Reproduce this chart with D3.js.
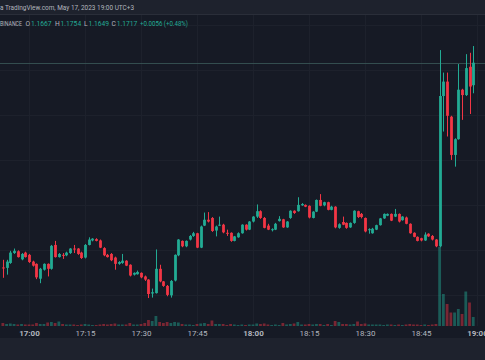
<!DOCTYPE html>
<html>
<head>
<meta charset="utf-8">
<script src="https://cdn.jsdelivr.net/npm/d3@7/dist/d3.min.js"></script>
<style>
  html, body { margin: 0; padding: 0; background: #161a25; overflow: hidden; }
  svg { display: block; }
</style>
</head>
<body>
<svg id="chart" width="485" height="360"></svg>
<script>
// ---- data (1-minute candles, first candle at 16:53) ----
const startTime = "16:53";
const open  = [1.1262,1.1261,1.1272,1.1294,1.1298,1.1280,1.1295,1.1290,1.1275,1.1270,1.1237,1.1257,1.1270,1.1259,1.1312,1.1285,1.1290,1.1289,1.1294,1.1304,1.1304,1.1295,1.1284,1.1312,1.1322,1.1325,1.1322,1.1305,1.1290,1.1292,1.1284,1.1270,1.1272,1.1277,1.1268,1.1246,1.1247,1.1250,1.1242,1.1235,1.1204,1.1205,1.1259,1.1231,1.1221,1.1200,1.1233,1.1289,1.1321,1.1309,1.1324,1.1332,1.1338,1.1306,1.1355,1.1368,1.1372,1.1344,1.1355,1.1357,1.1339,1.1339,1.1321,1.1329,1.1338,1.1357,1.1346,1.1364,1.1375,1.1387,1.1372,1.1355,1.1345,1.1346,1.1365,1.1369,1.1351,1.1372,1.1388,1.1387,1.1400,1.1401,1.1399,1.1372,1.1386,1.1412,1.1400,1.1407,1.1390,1.1397,1.1350,1.1363,1.1361,1.1351,1.1361,1.1387,1.1381,1.1372,1.1345,1.1338,1.1346,1.1356,1.1371,1.1377,1.1381,1.1375,1.1381,1.1367,1.1373,1.1359,1.1339,1.1330,1.1327,1.1322,1.1337,1.1332,1.1324,1.1309,1.1643,1.1675,1.1597,1.1512,1.1547,1.1657,1.1645,1.1708,1.1667];
const high  = [1.1279,1.1279,1.1299,1.1304,1.1300,1.1294,1.1297,1.1292,1.1277,1.1271,1.1261,1.1271,1.1271,1.1312,1.1321,1.1294,1.1294,1.1297,1.1305,1.1312,1.1305,1.1297,1.1314,1.1329,1.1327,1.1327,1.1324,1.1307,1.1292,1.1294,1.1286,1.1276,1.1292,1.1278,1.1269,1.1251,1.1255,1.1251,1.1244,1.1236,1.1215,1.1302,1.1268,1.1232,1.1223,1.1234,1.1291,1.1325,1.1322,1.1322,1.1334,1.1341,1.1339,1.1355,1.1384,1.1385,1.1374,1.1355,1.1375,1.1359,1.1346,1.1340,1.1332,1.1340,1.1358,1.1358,1.1365,1.1376,1.1402,1.1389,1.1374,1.1359,1.1349,1.1361,1.1376,1.1370,1.1365,1.1389,1.1389,1.1418,1.1405,1.1402,1.1400,1.1387,1.1413,1.1425,1.1408,1.1408,1.1399,1.1398,1.1360,1.1375,1.1362,1.1362,1.1389,1.1388,1.1383,1.1373,1.1349,1.1350,1.1357,1.1372,1.1382,1.1382,1.1382,1.1392,1.1382,1.1376,1.1375,1.1360,1.1340,1.1331,1.1328,1.1340,1.1338,1.1334,1.1325,1.1745,1.1695,1.1695,1.1599,1.1549,1.1714,1.1659,1.1736,1.1739,1.1754];
const low   = [1.1239,1.1246,1.1270,1.1292,1.1284,1.1278,1.1284,1.1272,1.1264,1.1236,1.1227,1.1255,1.1242,1.1257,1.1284,1.1284,1.1281,1.1287,1.1292,1.1294,1.1290,1.1281,1.1282,1.1311,1.1320,1.1320,1.1305,1.1287,1.1284,1.1276,1.1257,1.1268,1.1270,1.1265,1.1242,1.1244,1.1246,1.1238,1.1232,1.1194,1.1195,1.1204,1.1229,1.1219,1.1198,1.1195,1.1231,1.1287,1.1307,1.1307,1.1322,1.1330,1.1305,1.1305,1.1354,1.1362,1.1341,1.1331,1.1354,1.1338,1.1332,1.1319,1.1320,1.1328,1.1337,1.1344,1.1345,1.1362,1.1372,1.1370,1.1349,1.1345,1.1342,1.1345,1.1364,1.1350,1.1350,1.1370,1.1381,1.1386,1.1399,1.1396,1.1371,1.1371,1.1385,1.1398,1.1398,1.1389,1.1389,1.1349,1.1348,1.1356,1.1348,1.1350,1.1359,1.1372,1.1371,1.1340,1.1337,1.1337,1.1345,1.1355,1.1370,1.1376,1.1365,1.1374,1.1362,1.1366,1.1358,1.1337,1.1329,1.1320,1.1320,1.1321,1.1330,1.1322,1.1307,1.1307,1.1564,1.1553,1.1501,1.1486,1.1546,1.1590,1.1643,1.1603,1.1649];
const close = [1.1260,1.1275,1.1295,1.1299,1.1285,1.1292,1.1285,1.1274,1.1266,1.1240,1.1259,1.1270,1.1259,1.1310,1.1285,1.1292,1.1288,1.1295,1.1304,1.1302,1.1292,1.1283,1.1312,1.1324,1.1326,1.1321,1.1306,1.1289,1.1285,1.1278,1.1270,1.1274,1.1277,1.1266,1.1244,1.1250,1.1252,1.1240,1.1235,1.1203,1.1207,1.1259,1.1231,1.1221,1.1201,1.1232,1.1290,1.1324,1.1309,1.1321,1.1332,1.1338,1.1306,1.1353,1.1368,1.1364,1.1343,1.1353,1.1357,1.1340,1.1338,1.1321,1.1331,1.1338,1.1357,1.1346,1.1364,1.1375,1.1387,1.1372,1.1350,1.1346,1.1347,1.1359,1.1370,1.1351,1.1364,1.1388,1.1383,1.1401,1.1403,1.1397,1.1373,1.1386,1.1412,1.1399,1.1407,1.1390,1.1397,1.1351,1.1358,1.1357,1.1350,1.1361,1.1388,1.1374,1.1374,1.1342,1.1347,1.1348,1.1356,1.1371,1.1381,1.1381,1.1366,1.1381,1.1364,1.1375,1.1359,1.1338,1.1330,1.1321,1.1322,1.1335,1.1331,1.1324,1.1309,1.1643,1.1675,1.1599,1.1512,1.1547,1.1657,1.1645,1.1705,1.1664,1.1717];
const volume = [3,2,2.5,2,1.5,2,1.5,1.5,1.5,3,2,2,3.5,4,3,4.5,2,1.5,1.5,1.5,1,1.5,2,1.5,1,1,1.5,2,1.5,2,2.5,1.5,1.5,1.5,3,1.5,1.5,2,3,6,5,10,4,3,4,3,4,3.5,2,1.5,1.5,1,2,2.5,3,2,5.5,2,2,2,1,2,1.5,1,1.5,1,1.5,1.5,2.5,2,2.5,1.5,1,1.5,1,3,1.5,2,2.5,4,1.5,1.5,2,1.5,2,2,1,2,1,5,4,2,2,1.5,2,4.5,2,2.5,1.5,1.5,1.5,1.5,1,1.5,1.5,1,1.5,1,1.5,2,1.5,1.5,1,1.5,1,1.5,2,79,32,22,13.5,13.5,17,12,34.5,23.5,9];
const timeTicks = ["17:00","17:15","17:30","17:45","18:00","18:15","18:30","18:45","19:00"];
const priceGrid = [1.12,1.13,1.14,1.15,1.16,1.17,1.18];
const headerText = "a TradingView.com, May 17, 2023 19:00 UTC+3";
const legendSymbol = "BINANCE";
const legendKeys = ["O","H","L","C"];
const legendValues = ["1.1667","1.1754","1.1649","1.1717"];
const legendChange = "+0.0056 (+0.48%)";

// ---- build ----
const W = 485, H = 360;
const paneTop = 14, paneBottom = 326;
const GREEN = "#22ab94", RED = "#f23645";
const FONT = "Roboto, 'Noto Sans', sans-serif";
const parse = d3.timeParse("%H:%M");
const t0 = parse(startTime);
const candles = open.map((o, i) => ({
  t: d3.timeMinute.offset(t0, i), o, h: high[i], l: low[i], c: close[i], v: volume[i]
}));

const x = d3.scaleTime()
  .domain([d3.timeSecond.offset(parse("16:52"), 14), d3.timeSecond.offset(parse("19:02"), 9)])
  .range([0, W]);
const y = d3.scaleLinear().domain([1.11319, 1.18252]).range([paneBottom, paneTop]);
const yv = d3.scaleLinear().domain([0, 79]).range([paneBottom, 247]);

const svg = d3.select("#chart");
svg.append("rect").attr("width", W).attr("height", H).attr("fill", "#161a25");

// grid
const grid = svg.append("g");
grid.selectAll("line.h").data(priceGrid).join("line")
  .attr("x1", 0).attr("x2", W)
  .attr("y1", d => Math.round(y(d)) + 0.5).attr("y2", d => Math.round(y(d)) + 0.5)
  .attr("stroke", "#1d212c").attr("stroke-width", 1);
grid.selectAll("line.v").data(timeTicks).join("line")
  .attr("x1", d => Math.round(x(parse(d))) + 0.5).attr("x2", d => Math.round(x(parse(d))) + 0.5)
  .attr("y1", paneTop).attr("y2", paneBottom)
  .attr("stroke", "#1d212c").attr("stroke-width", 1);

// volume
const bw = 2.8;
svg.append("g").selectAll("rect").data(candles).join("rect")
  .attr("x", d => x(d.t) - bw / 2)
  .attr("width", bw)
  .attr("y", d => yv(d.v))
  .attr("height", d => paneBottom - yv(d.v))
  .attr("fill", d => d.c >= d.o ? GREEN : RED)
  .attr("opacity", 0.45);

// price line
svg.append("line")
  .attr("x1", 0).attr("x2", W)
  .attr("y1", Math.round(y(close[close.length - 1])) + 0.5)
  .attr("y2", Math.round(y(close[close.length - 1])) + 0.5)
  .attr("stroke", "#3b5a5a").attr("stroke-opacity", 0.8);

// candles
const cg = svg.append("g");
cg.selectAll("line").data(candles).join("line")
  .attr("x1", d => Math.round(x(d.t)) + 0.5).attr("x2", d => Math.round(x(d.t)) + 0.5)
  .attr("y1", d => y(d.h)).attr("y2", d => y(d.l))
  .attr("stroke", d => d.c >= d.o ? GREEN : RED).attr("stroke-width", 1);
cg.selectAll("rect").data(candles).join("rect")
  .attr("x", d => Math.round(x(d.t)) + 0.5 - bw / 2)
  .attr("width", bw)
  .attr("y", d => y(Math.max(d.o, d.c)))
  .attr("height", d => Math.max(1, Math.abs(y(d.o) - y(d.c))))
  .attr("fill", d => d.c >= d.o ? GREEN : RED);

// time axis
const axisG = svg.append("g").attr("transform", `translate(0,${paneBottom})`);
const xAxis = d3.axisBottom(x)
  .tickValues(timeTicks.map(parse))
  .tickFormat(d3.timeFormat("%H:%M"))
  .tickSize(0).tickPadding(4);
axisG.call(xAxis);
axisG.select(".domain").remove();
axisG.selectAll("text")
  .attr("fill", "#b2b5be")
  .attr("font-family", FONT)
  .attr("font-size", 8)
  .attr("font-weight", d => d.getMinutes() === 0 ? 700 : 400);

// bottom strip
svg.append("rect").attr("x", 0).attr("y", 338).attr("width", W).attr("height", H - 338).attr("fill", "#1e222d");

// header
svg.append("rect").attr("x", 0).attr("y", 0).attr("width", W).attr("height", 14).attr("fill", "#1e222d");
svg.append("line").attr("x1", 0).attr("x2", W).attr("y1", 14.5).attr("y2", 14.5).attr("stroke", "#2a2e39");
svg.append("text").attr("x", 0).attr("y", 10)
  .attr("fill", "#b2b5be").attr("font-family", FONT).attr("font-size", 8)
  .attr("textLength", 134).attr("lengthAdjust", "spacingAndGlyphs")
  .text(headerText);

// legend (one text element, positioned tspans)
const lgY = 26, lgFS = 6.7;
const lg = svg.append("text").attr("x", 0).attr("y", lgY)
  .attr("font-family", FONT).attr("font-size", lgFS);
lg.append("tspan").attr("x", 0).attr("fill", "#b2b5be")
  .attr("textLength", 22).attr("lengthAdjust", "spacingAndGlyphs")
  .text(legendSymbol);
const keyX = [25.5, 55, 84, 111.5];
legendKeys.forEach((k, i) => {
  lg.append("tspan").attr("x", keyX[i]).attr("fill", "#b2b5be").text(k);
  lg.append("tspan").attr("dx", 0.8).attr("fill", GREEN).text(legendValues[i]);
});
lg.append("tspan").attr("x", 140).attr("fill", GREEN)
  .attr("textLength", 48).attr("lengthAdjust", "spacingAndGlyphs")
  .text(legendChange);
</script>
</body>
</html>
